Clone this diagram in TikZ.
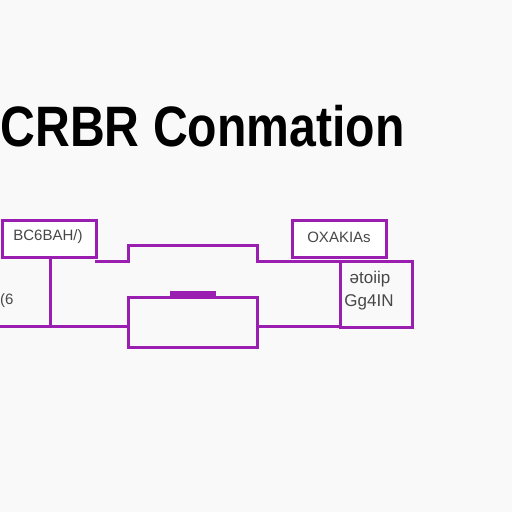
\documentclass[tikz,border=0pt]{standalone}
\usepackage{fontspec}
\setmainfont{Liberation Sans}
\begin{document}
\begin{tikzpicture}[x=1pt,y=-1pt,
  wire/.style={draw=boxpurple,line width=3pt,line cap=rect},
  box/.style={draw=boxpurple,line width=3pt,fill=white,inner sep=0pt,outer sep=0pt},
  lbl/.style={text=labelgray,font=\fontsize{15}{16}\selectfont,inner sep=0pt}]
\definecolor{boxpurple}{HTML}{9A1EB0}
\definecolor{labelgray}{HTML}{474747}
\definecolor{bg}{HTML}{F9F9F9}
\fill[bg] (0,0) rectangle (512,512);
\useasboundingbox (0,0) rectangle (512,512);
% title
\node[anchor=base west,inner sep=0pt,xscale=0.845] (title) at (0.5,146)
  {\fontsize{57}{60}\selectfont\bfseries CRBR Conmation};
% coordinates
\coordinate (ll) at (0,326);
\coordinate (lv) at (50,326);
\coordinate (rw) at (257,326);
\coordinate (rd) at (340,326);
% top middle shape
\draw[wire] (96,261) -- (128,261) -- (128,245) -- (257,245) -- (257,261) -- (340,261);
% lower-left wiring
\draw[wire] (ll) -- (128,326);
\draw[wire] (50,257) -- (lv);
% bottom middle box
\node[box,fill=none,minimum width=129pt,minimum height=50pt] (bm) at (192.5,322) {};
\fill[boxpurple] (170,291) rectangle (216,297);
\draw[wire] (rw) -- (rd);
% box D
\node[box,fill=none,minimum width=72pt,minimum height=66pt] (d) at (376,294) {};
\node[lbl,font=\fontsize{17}{18}\selectfont] (dt1) at (370,279) {ǝtoiip};
\node[lbl,font=\fontsize{17}{18}\selectfont] (dt2) at (369,302) {Gg4IN};
% box A
\node[box,minimum width=94pt,minimum height=37pt] (a) at (49,238.5) {};
\node[lbl] (at) at (48,237) {BC6BAH/)};
% box C
\node[box,minimum width=94pt,minimum height=37pt] (c) at (339,238.5) {};
\node[lbl] (ct) at (339,237) {OXAKIAs};
% left fragment text
\node[lbl,anchor=west] (lt) at (0,301) {(6};
\end{tikzpicture}
\end{document}
